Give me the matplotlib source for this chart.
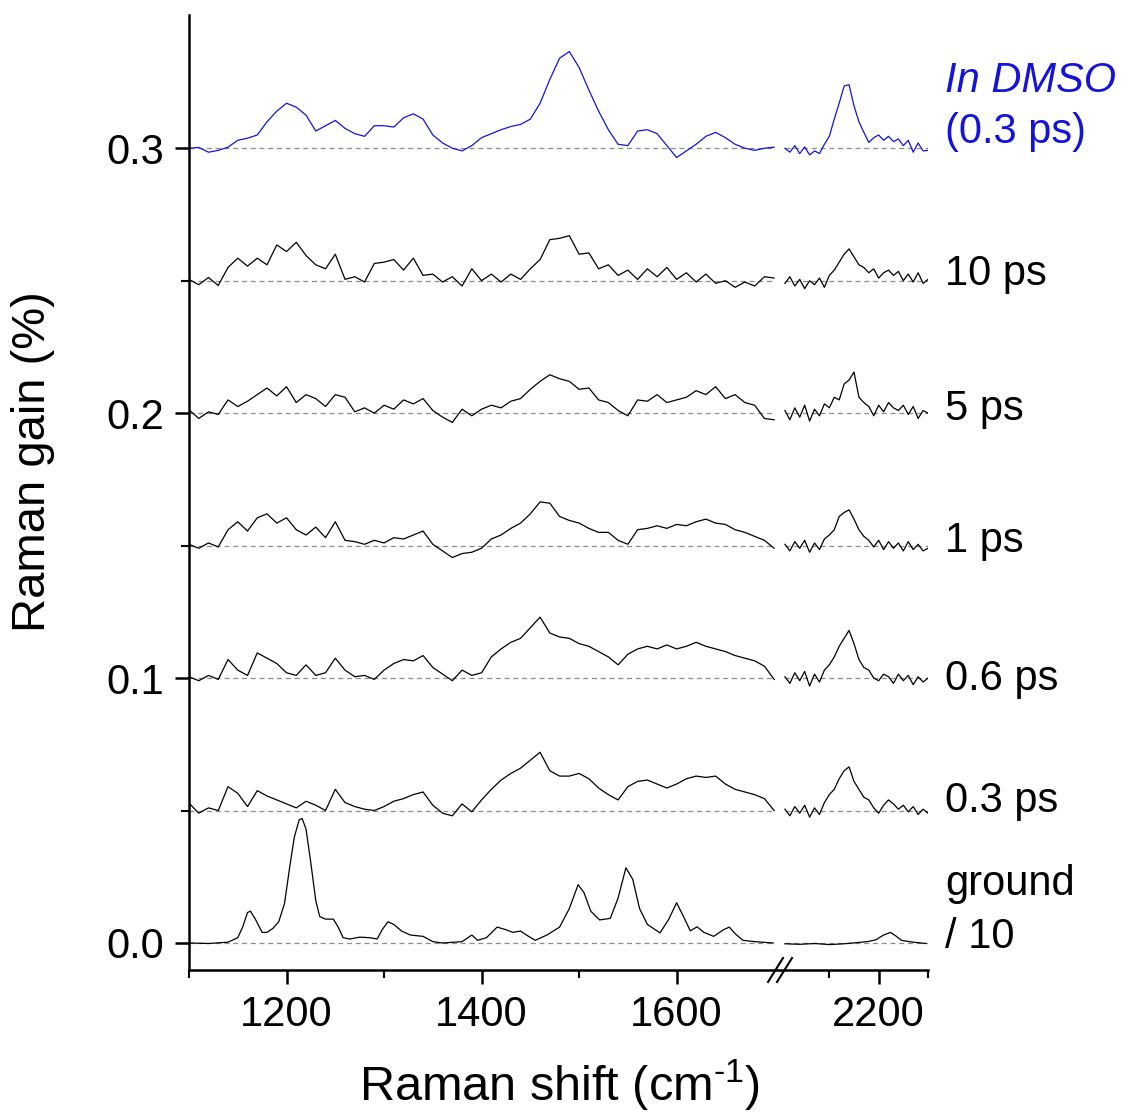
import numpy as np
import matplotlib
matplotlib.use("Agg")
import matplotlib.pyplot as plt
from matplotlib.lines import Line2D

plt.rcParams['font.family'] = ['Liberation Sans', 'DejaVu Sans']
plt.rcParams['mathtext.fontset'] = 'custom'
plt.rcParams['mathtext.rm'] = 'Liberation Sans'
plt.rcParams['mathtext.it'] = 'Liberation Sans:italic'

# Raman gain values below are in units of 1e-3 %
x_left = np.arange(1100, 1701, 10)
x_right = np.arange(2105, 2251, 5)

dmso_left = [0, 0.3, -1.5, -0.8, 0.4, 3, 3.8, 5, 10, 14,
             17, 15.5, 12.5, 6.5, 8.5, 10.5, 7.5, 5.5, 4.5, 8.5,
             8.5, 8, 11.5, 13, 11, 5, 2, 0, -1, 1,
             4, 5.5, 7, 8.2, 9, 11, 17, 26, 34, 36.5,
             30.5, 22, 14, 7, 1.5, 1, 6.5, 7, 5.5, 1,
             -3.5, -1, 1.5, 4.5, 6, 4, 1.5, 0, -0.8, 0,
             0.4]
dmso_right = [0, -1.5, 1, -2, 0.5, -2.5, -1, -2, 1.5, 4.5,
              11, 17, 23.5, 24, 16, 10, 6, 2.2, 4, 5,
              3, 4.5, 2.5, 3.5, 1, 3, -1.5, 2, -1, -0.8]

t10_left = [0.5, -1.5, 1.2, -1.8, 5, 8.5, 5.5, 8.5, 6, 13.5,
            11, 14.5, 9.5, 6, 4.5, 10, 0.5, 1.5, -0.5, 6.5,
            7, 8, 4, 8.5, 2, 2.5, -0.5, 1.5, -2, 4.5,
            0, 2.5, -0.5, 2.5, 0.5, 4.5, 8, 15.5, 16, 17,
            10, 10.5, 4.5, 6, 2, 4, 0.5, 4.5, 1.5, 5,
            0.5, 3, -0.5, 2.5, -1, 0, -2.5, -0.5, -2, 1.5,
            1]
t10_right = [-1, 1.5, -2, 0.5, -3, 0, -1.5, 1, -2.5, 2,
             4, 7, 10, 12, 9, 6, 5, 3, 4.5, 1,
             3, 4, 2, 3.5, 0, 2.5, -0.5, 3, -1, 0.5]

t5_left = [1.3, -2, 0.5, -0.5, 5, 2.5, 4.5, 7, 9.5, 6.5,
           10, 4, 7, 5.5, 2.5, 7, 6, 0.5, 2, 0,
           3, 1.5, 5, 3.5, 5.5, 1, -1.5, -3.5, 1.5, -1,
           1.5, 3, 2, 4.5, 5.5, 9, 12, 14.5, 13, 12,
           9, 9.5, 5, 4, 1, -1, 5, 4.5, 7, 4,
           5, 6, 8.5, 7, 10, 5.5, 7, 4, 3, -2,
           -2.5]
t5_right = [1, -2.5, 2, -1.5, 3, -3, 1.5, -1, 3.5, 2,
            6, 5, 11, 12.5, 15.5, 6, 4, 2.5, -1, 3,
            0.5, 4, 2, 1, 3, -0.5, 2.5, -2, 1, 0]

t1_left = [0.5, -1, 1, -0.5, 6, 9, 5.5, 10.5, 12, 8.5,
           10.5, 6, 4, 7, 3, 9, 2, 1.5, 0.5, 2,
           1, 3, 2.5, 4, 5.5, 0.5, -2, -4.5, -3, -2.5,
           -1, 2.5, 4, 6.5, 8.5, 12, 16.5, 16, 11, 9.5,
           8.5, 6.5, 5, 5, 2, 0.5, 6, 6.5, 7.5, 6.5,
           8, 7.5, 9, 10, 8.5, 8, 6, 5, 3.5, 2,
           -1]
t1_right = [0.5, -2, 1.5, -1, 2, -2.5, 1, -1.5, 2.5, 4,
            6, 11, 12.5, 13.5, 10, 6, 3.5, 2, -0.5, 2,
            -1.5, 1.5, -1, 1, -2, 1.5, -1.5, 0.5, -2, -1]

t06_left = [0.5, -1, 1, -0.5, 7, 3, 1, 9.5, 7.5, 5.5,
            2, 1, 5, 1, 2, 7.5, 3, 0.5, 1, -0.5,
            3, 5.5, 7, 6.5, 8.5, 4, 1.5, -1, 3, 1,
            2, 8, 11, 13.5, 15, 19, 23, 17, 15.5, 15,
            13, 12, 10, 8, 5, 9, 11, 12, 11, 12.5,
            11, 12, 13.5, 12, 11, 10, 8.5, 7.5, 6.5, 4.5,
            -0.5]
t06_right = [0.5, -2, 2, -1, 2.5, -3, 1.5, -1.5, 3, 5,
             8, 12, 15, 18, 13, 7, 4, 3, 0, -1,
             1.5, 0.5, -2, 1.5, -1, 1, -2.5, 0.5, -1.5, 0]

t03_left = [2.8, -1, 1, 0, 9, 6.5, 1.5, 7.5, 5.5, 4,
            2.5, 1, 3.5, 2, 0, 8, 3, 1.5, 0.5, 0,
            1.5, 3.5, 4.5, 6, 7, 2, -1, -2, 2.5, -0.5,
            4, 8, 11.5, 14, 16, 19, 22, 15, 13, 13,
            14, 12, 8.5, 6, 4, 9, 11, 11.5, 10, 8.5,
            10, 12, 13, 12.5, 13, 10, 8, 7, 6, 4.5,
            0]
t03_right = [0.5, -2, 1.5, -1, 2, -2.5, 1, -1.5, 3, 6,
             8, 12, 15, 16.5, 11, 8, 5, 4, 1, -1,
             2, 4, 2.5, 0.5, 2, -0.5, 1.5, -1.5, 0.5, -1]

# ground state spectrum (divided by 10)
gx_left = [1100, 1120, 1140, 1150, 1155, 1160, 1163, 1168, 1175, 1180,
           1186, 1192, 1198, 1203, 1208, 1213, 1216, 1220, 1225, 1230,
           1234, 1240, 1248, 1253, 1258, 1265, 1275, 1285, 1293, 1298,
           1304, 1310, 1318, 1327, 1340, 1350, 1360, 1380, 1390, 1396,
           1405, 1416, 1425, 1432, 1440, 1446, 1455, 1467, 1480, 1490,
           1499, 1505, 1512, 1521, 1532, 1540, 1548, 1555, 1562, 1570,
           1583, 1592, 1600, 1607, 1614, 1621, 1628, 1638, 1648, 1654,
           1660, 1668, 1680, 1699]
gy_left = [0, -0.2, 0.3, 2, 6, 11.5, 12, 9, 4, 4,
           5.5, 8, 15, 28, 40, 46.5, 47, 43, 30, 16,
           10, 9, 9, 6, 2, 1.5, 2.2, 2, 1.5, 5,
           8, 7, 4.5, 3, 2.5, 0.5, 0, 0.5, 3, 1,
           2, 6, 5, 4, 4.5, 3, 1, 3, 6, 13,
           22, 19, 12, 8.7, 9.3, 17, 28.4, 24, 13, 7,
           3.8, 9, 15.2, 10, 4.6, 6.1, 4, 2.5, 5, 6,
           3.5, 1, 0.5, 0]
gx_right = [2105, 2120, 2135, 2150, 2165, 2180, 2190, 2197, 2205, 2212,
            2218, 2223, 2235, 2248]
gy_right = [-0.3, -0.5, -0.2, -0.6, -0.3, 0.2, 0.6, 1.2, 3, 4,
            2.5, 1, 0.3, -0.2]

offsets = [0.05, 0.10, 0.15, 0.20, 0.25, 0.30]
lefts = [t03_left, t06_left, t1_left, t5_left, t10_left, dmso_left]
rights = [t03_right, t06_right, t1_right, t5_right, t10_right, dmso_right]
colors = ['black'] * 5 + ['#1414d8']

W, H = 1128, 1116
fig = plt.figure(figsize=(W / 100, H / 100), dpi=100)
ax1 = fig.add_axes([189 / W, 1 - 970 / H, 591 / W, 955 / H])
ax2 = fig.add_axes([780 / W, 1 - 970 / H, 148 / W, 955 / H], sharey=ax1)

dash = (0, (4, 3))
for off in [0.0] + offsets:
    ax1.hlines(off, 1100, 1700, colors='#8c8c8c', linestyles=dash, lw=0.9)
    ax2.hlines(off, 2105, 2250, colors='#8c8c8c', linestyles=dash, lw=0.9)

ax1.plot(gx_left, np.array(gy_left) * 1e-3, color='black', lw=0.9)
ax2.plot(gx_right, np.array(gy_right) * 1e-3, color='black', lw=0.9)
for off, yl, yr, c in zip(offsets, lefts, rights, colors):
    ax1.plot(x_left, off + np.array(yl) * 1e-3, color=c, lw=0.9)
    ax2.plot(x_right, off + np.array(yr) * 1e-3, color=c, lw=0.9)

ax1.set_xlim(1100, 1706)
ax2.set_xlim(2100, 2250)
ax1.set_ylim(-0.0102, 0.3503)

for ax in (ax1, ax2):
    ax.spines['top'].set_visible(False)
    ax.spines['right'].set_visible(False)
    ax.spines['left'].set_linewidth(1.8)
    ax.spines['bottom'].set_linewidth(1.8)
    ax.tick_params(which='major', direction='out', length=10, width=1.8,
                   labelsize=30, pad=8)
    ax.tick_params(which='minor', direction='out', length=5.5, width=1.5)
ax2.spines['left'].set_visible(False)
ax2.tick_params(axis='y', which='both', left=False, labelleft=False)

ax1.set_xticks([1200, 1400, 1600])
ax1.set_xticks([1100, 1300, 1500], minor=True)
ax2.set_xticks([2200])
ax2.set_xticks([2150, 2250], minor=True)
ax1.set_yticks([0.0, 0.1, 0.2, 0.3])
ax1.set_yticklabels(['0.0', '0.1', '0.2', '0.3'])
ax1.set_yticks([0.05, 0.15, 0.25], minor=True)

# axis break marks
for x0 in (768, 777):
    fig.add_artist(Line2D([x0 / W, (x0 + 15) / W], [1 - 982 / H, 1 - 958 / H],
                          transform=fig.transFigure, color='black', lw=1.5))

fig.text(560 / W, 1 - 1101 / H, 'Raman shift (cm$^{\u2010' + '1}$)', fontsize=35,
         ha='center', va='baseline')
fig.text(33 / W, 1 - 462 / H, 'Raman gain (%)', fontsize=34, rotation=90,
         ha='center', va='center')

labels = ['In DMSO', '(0.3 ps)', '10 ps', '5 ps', '1 ps', '0.6 ps', '0.3 ps', 'ground', '/ 10']
label_base = [92, 143, 285, 420, 552, 690, 812, 895, 948]
for txt, yb in zip(labels, label_base):
    blue = txt in ('In DMSO', '(0.3 ps)')
    fig.text(945 / W, 1 - yb / H, txt, fontsize=30, ha='left', va='baseline',
             color='#1414d8' if blue else 'black',
             style='italic' if txt == 'In DMSO' else 'normal')

fig.savefig('out.png', dpi=100)
